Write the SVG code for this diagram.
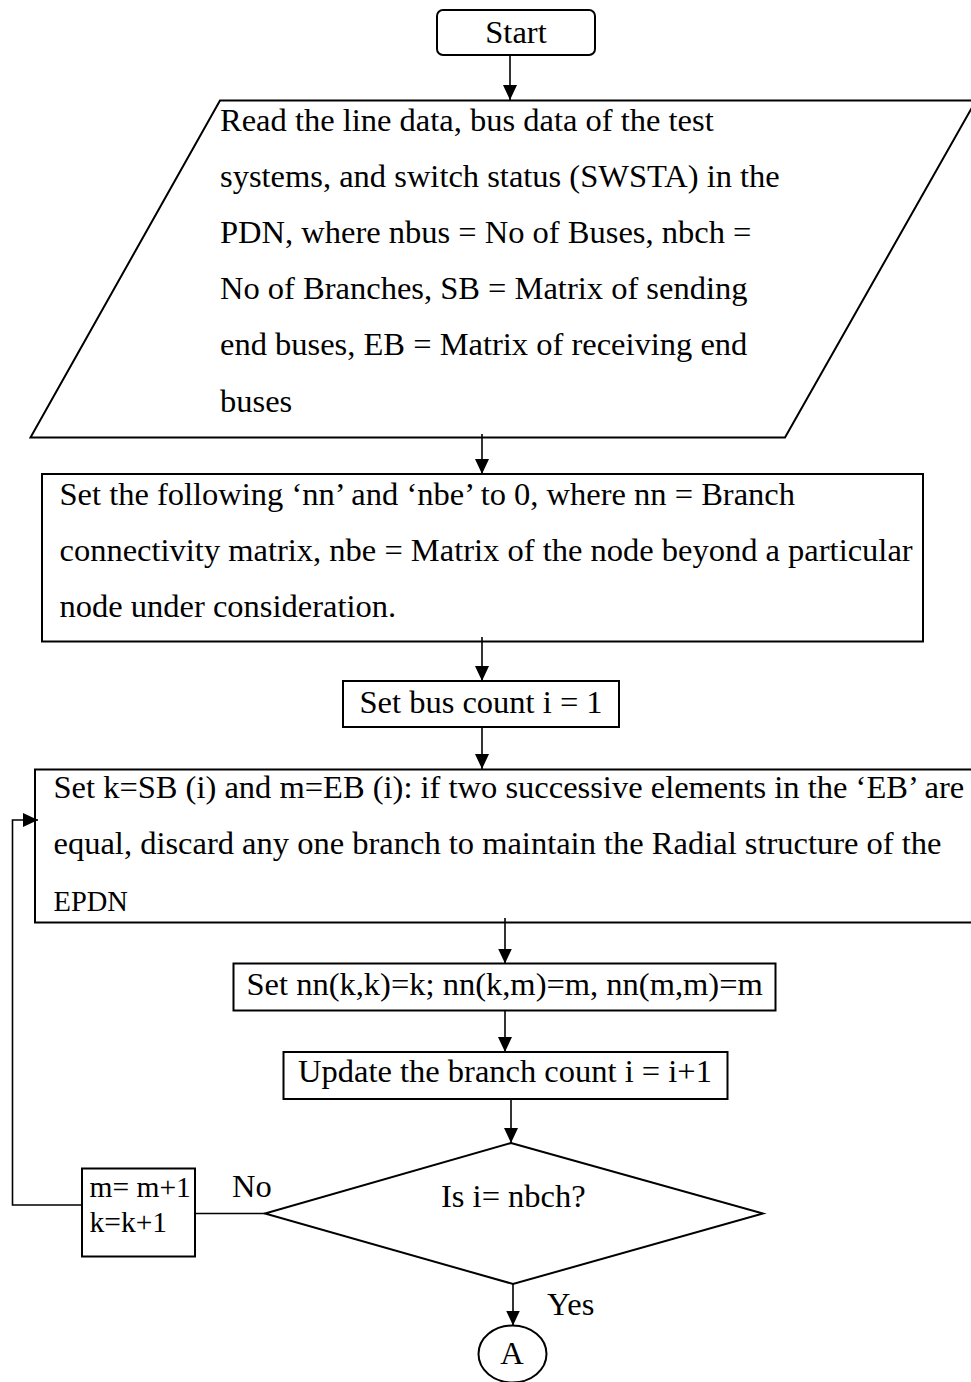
<svg xmlns="http://www.w3.org/2000/svg" width="971" height="1382" viewBox="0 0 971 1382">
<style>
  .shape { fill: #ffffff; stroke: #000000; stroke-width: 2; }
  .conn { fill: none; stroke: #000000; stroke-width: 1.6; }
  .t { font-family: "Liberation Serif", "Times New Roman", serif; font-size: 32.5px; fill: #000000; }
  .tm { text-anchor: middle; }
</style>
<defs>
  <marker id="arrow" markerUnits="userSpaceOnUse" markerWidth="15" markerHeight="14" refX="15" refY="7" orient="auto">
    <path d="M0,0 L15,7 L0,14 z" fill="#000000"/>
  </marker>
</defs>
<rect width="971" height="1382" fill="#ffffff"/>

<g id="start">
  <rect class="shape" x="437" y="10" width="158" height="45" rx="6" ry="6"/>
  <text class="t tm" x="516" y="43">Start</text>
</g>

<g id="read-data">
  <polygon class="shape" points="220,100.5 976,100.5 785,437.5 30.5,437.5"/>
  <text class="t" x="220" y="130.5">Read the line data, bus data of the test</text>
  <text class="t" x="220" y="186.7">systems, and switch status (SWSTA) in the</text>
  <text class="t" x="220" y="242.9">PDN, where nbus = No of Buses, nbch =</text>
  <text class="t" x="220" y="299.1">No of Branches, SB = Matrix of sending</text>
  <text class="t" x="220" y="355.3">end buses, EB = Matrix of receiving end</text>
  <text class="t" x="220" y="411.5">buses</text>
</g>

<g id="set-zero">
  <rect class="shape" x="42" y="474" width="881" height="167.5"/>
  <text class="t" x="59.5" y="505">Set the following ‘nn’ and ‘nbe’ to 0, where nn = Branch</text>
  <text class="t" x="59.5" y="561">connectivity matrix, nbe = Matrix of the node beyond a particular</text>
  <text class="t" x="59.5" y="617">node under consideration.</text>
</g>

<g id="bus-count">
  <rect class="shape" x="343" y="681" width="276" height="46"/>
  <text class="t" x="359.5" y="713.3">Set bus count i = 1</text>
</g>

<g id="set-k-m">
  <rect class="shape" x="35" y="769.5" width="945" height="153"/>
  <text class="t" x="53.5" y="798.3">Set k=SB (i) and m=EB (i): if two successive elements in the ‘EB’ are</text>
  <text class="t" x="53.5" y="854">equal, discard any one branch to maintain the Radial structure of the</text>
  <text class="t" x="53.5" y="911" style="font-size:28.5px">EPDN</text>
</g>

<g id="set-nn">
  <rect class="shape" x="233.5" y="963.5" width="542" height="47"/>
  <text class="t" x="246.5" y="995">Set nn(k,k)=k; nn(k,m)=m, nn(m,m)=m</text>
</g>

<g id="update">
  <rect class="shape" x="283.5" y="1052" width="444" height="47"/>
  <text class="t" x="298" y="1082">Update the branch count i = i+1</text>
</g>

<g id="decision">
  <polygon class="shape" points="511,1143 763,1213.5 513,1284 265,1213.5"/>
  <text class="t" x="441" y="1207">Is i= nbch?</text>
</g>

<g id="increment">
  <rect class="shape" x="82" y="1168.5" width="113" height="88"/>
  <text class="t" x="89.5" y="1196.7" style="font-size:29.5px">m= m+1</text>
  <text class="t" x="89.5" y="1231.7" style="font-size:29.5px">k=k+1</text>
</g>

<g id="connector-a">
  <ellipse class="shape" cx="512.5" cy="1354" rx="34" ry="28.5"/>
  <text class="t tm" x="512" y="1364">A</text>
</g>

<g id="labels">
  <text class="t" x="232" y="1197">No</text>
  <text class="t" x="547" y="1315">Yes</text>
</g>

<g id="connectors">
  <path class="conn" d="M510,55 L510,100" marker-end="url(#arrow)"/>
  <path class="conn" d="M482,434 L482,474" marker-end="url(#arrow)"/>
  <path class="conn" d="M482,637 L482,681" marker-end="url(#arrow)"/>
  <path class="conn" d="M482,727 L482,769" marker-end="url(#arrow)"/>
  <path class="conn" d="M505,918 L505,963.5" marker-end="url(#arrow)"/>
  <path class="conn" d="M505,1010.5 L505,1052" marker-end="url(#arrow)"/>
  <path class="conn" d="M511,1099 L511,1143" marker-end="url(#arrow)"/>
  <path class="conn" d="M513,1283 L513,1325.5" marker-end="url(#arrow)"/>
  <path class="conn" d="M265,1213.5 L195,1213.5"/>
  <path class="conn" d="M82,1205 L12.5,1205 L12.5,820 L38,820" marker-end="url(#arrow)"/>
</g>
</svg>
